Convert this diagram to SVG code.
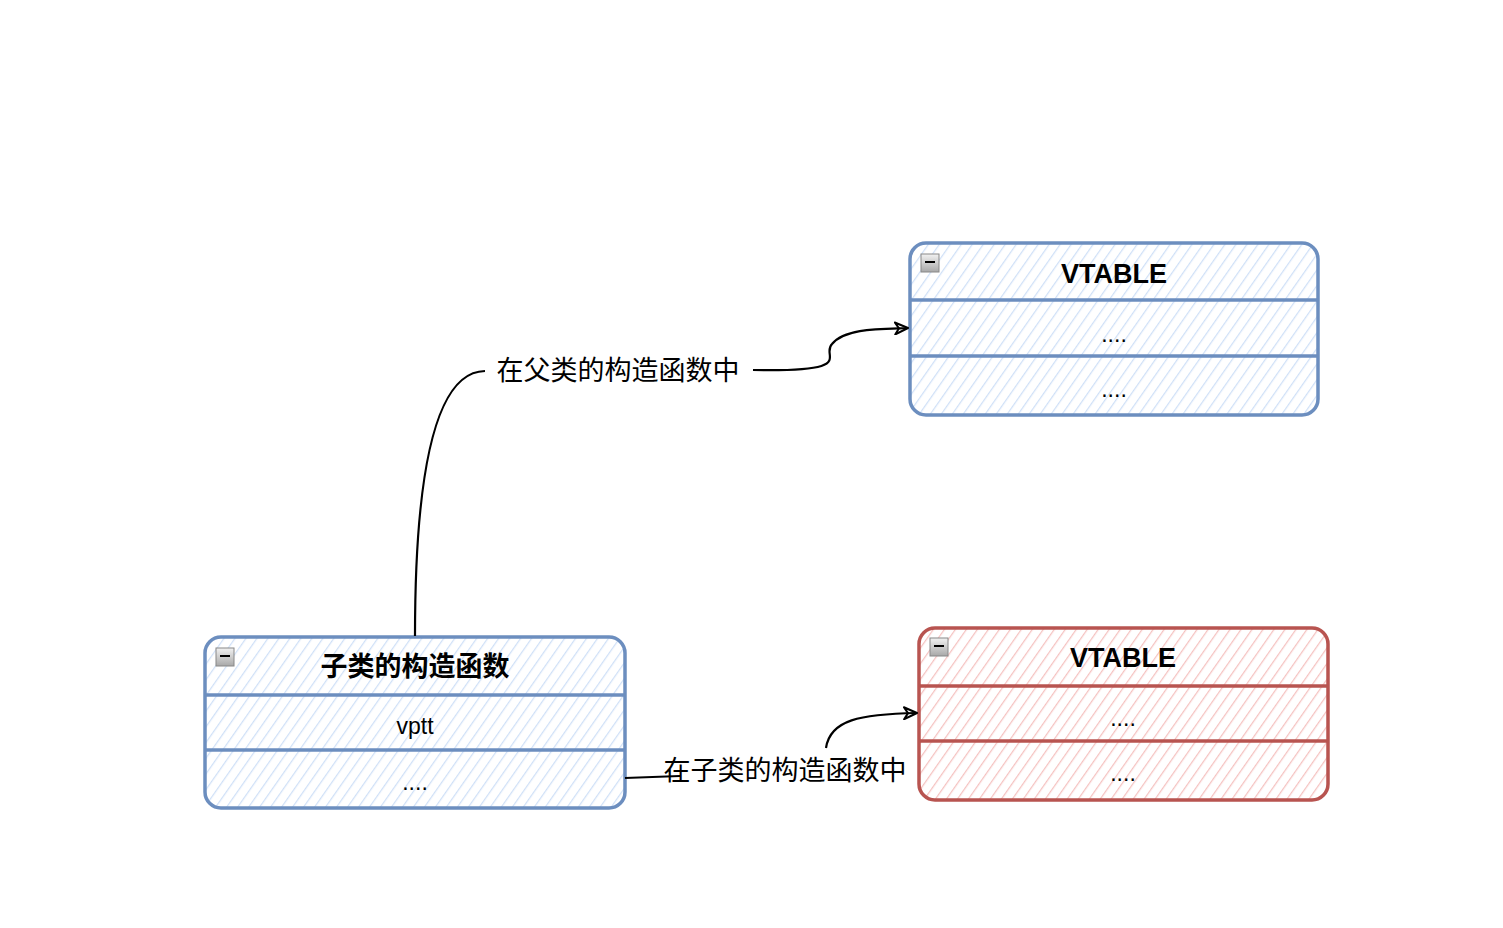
<svg xmlns="http://www.w3.org/2000/svg" width="1503" height="928" viewBox="0 0 1503 928">
<defs>
<pattern id="hb" patternUnits="userSpaceOnUse" width="9" height="9" patternTransform="rotate(35)">
<rect width="9" height="9" fill="#ffffff"/>
<line x1="0" y1="0" x2="0" y2="9" stroke="#cfe0f7" stroke-width="2.5"/>
</pattern>
<pattern id="hr" patternUnits="userSpaceOnUse" width="9" height="9" patternTransform="rotate(35)">
<rect width="9" height="9" fill="#ffffff"/>
<line x1="0" y1="0" x2="0" y2="9" stroke="#f5c2c0" stroke-width="2.5"/>
</pattern>
<linearGradient id="ic" x1="0" y1="0" x2="0" y2="1">
<stop offset="0" stop-color="#f2f2f2"/><stop offset="1" stop-color="#a8a8a8"/>
</linearGradient>
<marker id="arr" markerWidth="16" markerHeight="14" refX="14" refY="7" orient="auto" markerUnits="userSpaceOnUse">
<path d="M1,1 L14,7 L1,13 L5,7 Z" fill="none" stroke="#000" stroke-width="2" stroke-linejoin="round"/>
</marker>
</defs>
<style>
.b{fill:url(#hb);stroke:#6c8ebf;stroke-width:3.5}
.r{fill:url(#hr);stroke:#b85450;stroke-width:3.5}
.h{font-family:"Liberation Sans","Noto Sans CJK SC",sans-serif;font-weight:bold;font-size:27px;text-anchor:middle;fill:#000}
.t{font-family:"Liberation Sans","Noto Sans CJK SC",sans-serif;font-size:23px;text-anchor:middle;fill:#000}
.l{font-family:"Noto Sans CJK SC",sans-serif;font-size:27px;text-anchor:middle;fill:#000}
.ic{fill:url(#ic);stroke:#888;stroke-width:1}
.c{fill:none;stroke:#000;stroke-width:2.2}
</style>

<g id="vtable-blue">
<rect class="b" x="910" y="243" width="408" height="172" rx="16"/>
<line x1="910" y1="300" x2="1318" y2="300" stroke="#6c8ebf" stroke-width="3.5"/>
<line x1="910" y1="356" x2="1318" y2="356" stroke="#6c8ebf" stroke-width="3.5"/>
<rect class="ic" x="921" y="254" width="18" height="18"/>
<line x1="925" y1="262" x2="935" y2="262" stroke="#000" stroke-width="2"/>
<text class="h" x="1114" y="283">VTABLE</text>
<text class="t" x="1114" y="342">....</text>
<text class="t" x="1114" y="397">....</text>
</g>

<g id="vtable-red">
<rect class="r" x="919" y="628" width="409" height="172" rx="16"/>
<line x1="919" y1="686" x2="1328" y2="686" stroke="#b85450" stroke-width="3.5"/>
<line x1="919" y1="741" x2="1328" y2="741" stroke="#b85450" stroke-width="3.5"/>
<rect class="ic" x="930" y="638" width="18" height="18"/>
<line x1="934" y1="646" x2="944" y2="646" stroke="#000" stroke-width="2"/>
<text class="h" x="1123" y="667">VTABLE</text>
<text class="t" x="1123" y="726">....</text>
<text class="t" x="1123" y="781">....</text>
</g>

<g id="child-ctor">
<rect class="b" x="205" y="637" width="420" height="171" rx="16"/>
<line x1="205" y1="695" x2="625" y2="695" stroke="#6c8ebf" stroke-width="3.5"/>
<line x1="205" y1="750" x2="625" y2="750" stroke="#6c8ebf" stroke-width="3.5"/>
<rect class="ic" x="216" y="648" width="18" height="18"/>
<line x1="220" y1="656" x2="230" y2="656" stroke="#000" stroke-width="2"/>
<text class="h" x="415" y="676">子类的构造函数</text>
<text class="t" x="415" y="734">vptt</text>
<text class="t" x="415" y="790">....</text>
</g>

<g id="connectors">
<path class="c" d="M415,636 C415,560 418,372 485,371"/>
<path class="c" d="M753,370 C860,372 820,356 832,344 C845,328 880,329 908,328" marker-end="url(#arr)"/>
<text class="l" x="618" y="380">在父类的构造函数中</text>
<path class="c" d="M625,778 L680,776"/>
<path class="c" d="M826,748 C830,720 860,714 917,713" marker-end="url(#arr)"/>
<text class="l" x="785" y="780">在子类的构造函数中</text>
</g>
</svg>
